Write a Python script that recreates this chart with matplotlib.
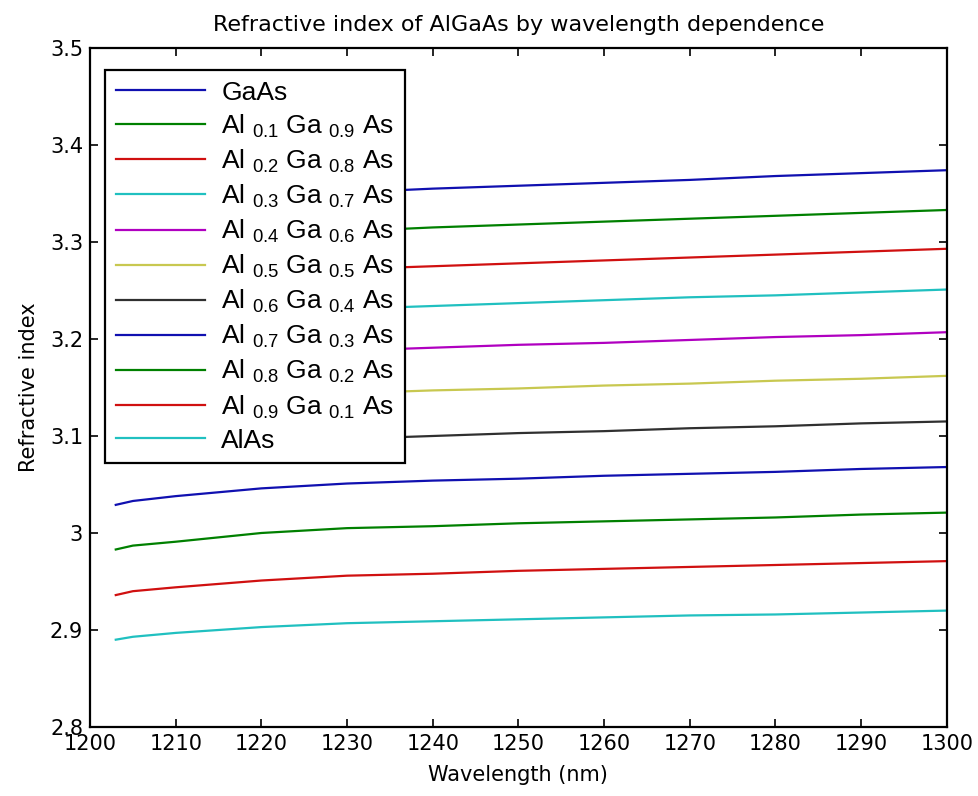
import matplotlib
matplotlib.use("Agg")
import matplotlib.pyplot as plt

plt.rcParams['font.family'] = ['DejaVu Sans']
plt.rcParams['mathtext.fontset'] = 'custom'
plt.rcParams['mathtext.rm'] = 'Liberation Sans'

# wavelength grid (nm)
wavelength = [1203, 1205, 1210, 1220, 1230, 1240, 1250, 1260, 1270, 1280, 1290, 1300]

# refractive index per composition
n_gaas = [3.320, 3.326, 3.332, 3.344, 3.351, 3.355, 3.358, 3.361, 3.364, 3.368, 3.371, 3.374]
n_al01 = [3.282, 3.288, 3.293, 3.304, 3.311, 3.315, 3.318, 3.321, 3.324, 3.327, 3.330, 3.333]
n_al02 = [3.244, 3.249, 3.255, 3.266, 3.272, 3.275, 3.278, 3.281, 3.284, 3.287, 3.290, 3.293]
n_al03 = [3.204, 3.209, 3.214, 3.225, 3.231, 3.234, 3.237, 3.240, 3.243, 3.245, 3.248, 3.251]
n_al04 = [3.162, 3.167, 3.172, 3.182, 3.188, 3.191, 3.194, 3.196, 3.199, 3.202, 3.204, 3.207]
n_al05 = [3.119, 3.124, 3.128, 3.138, 3.144, 3.147, 3.149, 3.152, 3.154, 3.157, 3.159, 3.162]
n_al06 = [3.074, 3.079, 3.083, 3.092, 3.097, 3.100, 3.103, 3.105, 3.108, 3.110, 3.113, 3.115]
n_al07 = [3.029, 3.033, 3.038, 3.046, 3.051, 3.054, 3.056, 3.059, 3.061, 3.063, 3.066, 3.068]
n_al08 = [2.983, 2.987, 2.991, 3.000, 3.005, 3.007, 3.010, 3.012, 3.014, 3.016, 3.019, 3.021]
n_al09 = [2.936, 2.940, 2.944, 2.951, 2.956, 2.958, 2.961, 2.963, 2.965, 2.967, 2.969, 2.971]
n_alas = [2.890, 2.893, 2.897, 2.903, 2.907, 2.909, 2.911, 2.913, 2.915, 2.916, 2.918, 2.920]

series = [n_gaas, n_al01, n_al02, n_al03, n_al04, n_al05, n_al06, n_al07, n_al08, n_al09, n_alas]
labels = ['GaAs',
          r'Al $\mathregular{_{0.1}}$ Ga $\mathregular{_{0.9}}$ As',
          r'Al $\mathregular{_{0.2}}$ Ga $\mathregular{_{0.8}}$ As',
          r'Al $\mathregular{_{0.3}}$ Ga $\mathregular{_{0.7}}$ As',
          r'Al $\mathregular{_{0.4}}$ Ga $\mathregular{_{0.6}}$ As',
          r'Al $\mathregular{_{0.5}}$ Ga $\mathregular{_{0.5}}$ As',
          r'Al $\mathregular{_{0.6}}$ Ga $\mathregular{_{0.4}}$ As',
          r'Al $\mathregular{_{0.7}}$ Ga $\mathregular{_{0.3}}$ As',
          r'Al $\mathregular{_{0.8}}$ Ga $\mathregular{_{0.2}}$ As',
          r'Al $\mathregular{_{0.9}}$ Ga $\mathregular{_{0.1}}$ As',
          'AlAs']
colors = ['#1010b0', '#008000', '#d01010', '#20c0c0', '#b000c0', '#c8c850', '#303030']

fig = plt.figure(figsize=(9.79, 7.96), dpi=100)
ax = fig.add_axes([0.092, 0.0867, 0.875, 0.853])

for i, (ys, lab) in enumerate(zip(series, labels)):
    ax.plot(wavelength, ys, color=colors[i % len(colors)], linewidth=1.6, label=lab)

ax.set_xlim(1200, 1300)
ax.set_ylim(2.8, 3.5)
ax.set_xticks(range(1200, 1301, 10))
ax.set_yticks([2.8, 2.9, 3.0, 3.1, 3.2, 3.3, 3.4, 3.5])
ax.set_yticklabels(['2.8', '2.9', '3', '3.1', '3.2', '3.3', '3.4', '3.5'])
ax.tick_params(direction='in', top=True, right=True, length=6, width=1.2,
               labelsize=15)
ax.tick_params(axis='x', pad=5)
ax.tick_params(axis='y', pad=5)
for sp in ax.spines.values():
    sp.set_linewidth(1.6)

ax.set_xlabel('Wavelength (nm)', fontsize=15, labelpad=8)
ax.set_ylabel('Refractive index', fontsize=15, labelpad=8)
ax.set_title('Refractive index of AlGaAs by wavelength dependence', fontsize=16, pad=12)

leg = ax.legend(loc='upper left', bbox_to_anchor=(0.0175, 0.9676), borderaxespad=0,
                prop={'family': 'Liberation Sans', 'size': 19},
                handlelength=3.4, handletextpad=0.6, labelspacing=0.3,
                borderpad=0.4, fancybox=False, framealpha=1, edgecolor='black')
leg.get_frame().set_linewidth(1.6)

fig.savefig('out.png', dpi=100)
